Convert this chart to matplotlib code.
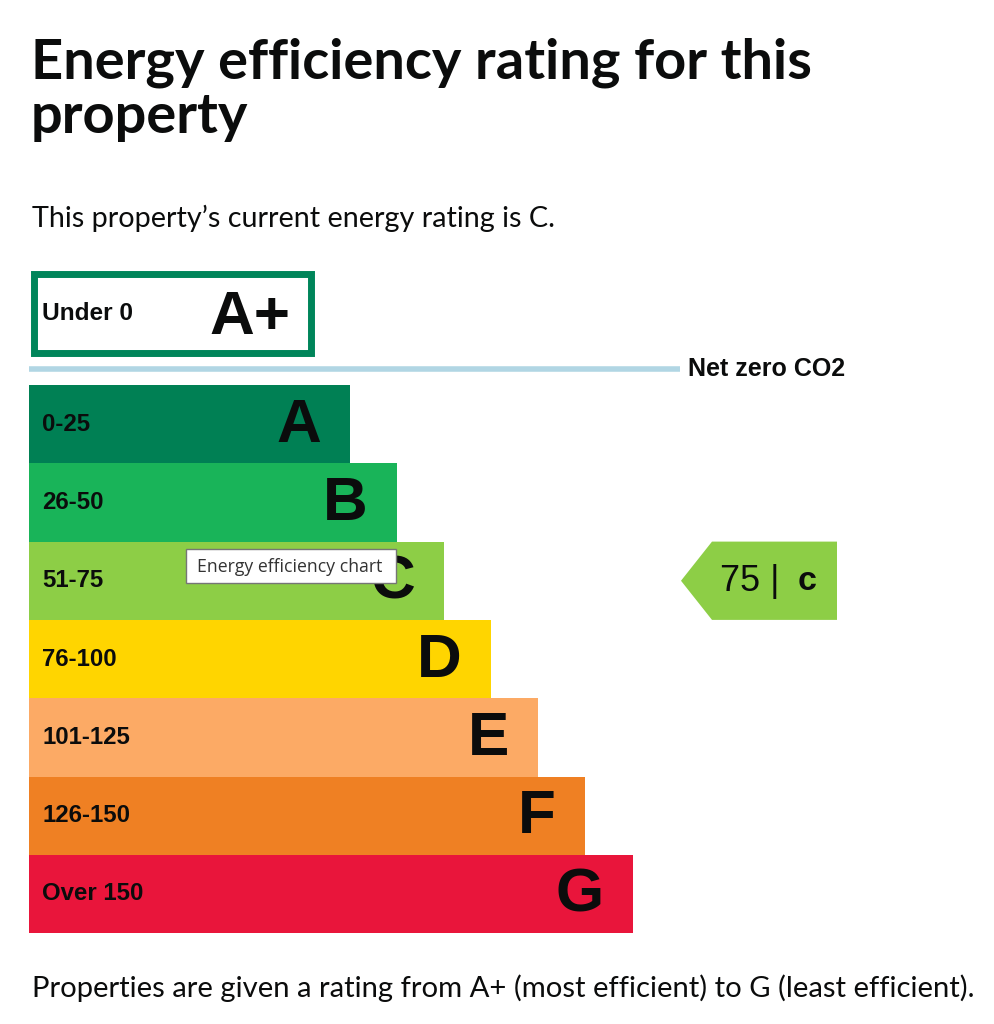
import matplotlib.pyplot as plt
from matplotlib.patches import Rectangle, Polygon

W, H = 994, 1024
DPI = 100

# chart data
bands = ["A", "B", "C", "D", "E", "F", "G"]
ranges = ["0-25", "26-50", "51-75", "76-100", "101-125", "126-150", "Over 150"]
band_colors = ["#008054", "#19b459", "#8dce46", "#ffd500", "#fcaa65", "#ef8023", "#e9153b"]
bar_lengths = [321, 368, 415, 462, 509, 556, 604]
current_score = 75
current_band = "C"

INTRO = "This property\u2019s current energy rating is C."
FOOTER = "Properties are given a rating from A+ (most efficient) to G (least efficient)."

BODY_FONT = "Lato"
CHART_FONT = "Liberation Sans"
INK = "#0b0c0c"


def px(size):
    # pixel size -> points
    return size * 72 / DPI


fig = plt.figure(figsize=(W / DPI, H / DPI), dpi=DPI)
ax = fig.add_axes([0, 0, 1, 1])
ax.set_xlim(0, W)
ax.set_ylim(H, 0)
ax.axis("off")

# headings
ax.text(31, 78, "Energy efficiency rating for this", fontsize=px(56), fontweight="bold",
        family=BODY_FONT, color=INK, va="baseline")
ax.text(31, 133, "property", fontsize=px(56), fontweight="bold",
        family=BODY_FONT, color=INK, va="baseline")
ax.text(32, 227, INTRO, fontsize=px(28.8), family=BODY_FONT, color=INK, va="baseline")

# bands
x0 = 29
top = 385
band_h = 78.3
ys = [top + (i + 0.5) * band_h for i in range(len(bands))]
ax.barh(ys, bar_lengths, height=band_h, left=x0, color=band_colors, edgecolor="none")
for y, length, band, rng in zip(ys, bar_lengths, bands, ranges):
    ax.text(42, y, rng, fontsize=px(24), fontweight="bold", family=CHART_FONT,
            color=INK, va="center")
    ax.text(x0 + length - 29, y + 2, band, fontsize=px(62), fontweight="bold",
            family=CHART_FONT, color=INK, va="center", ha="right")

# A+ box
ax.add_patch(Rectangle((34, 274), 277, 79, facecolor="white", edgecolor="#00855a", linewidth=5))
ax.text(42, 313, "Under 0", fontsize=px(24.5), fontweight="bold", family=CHART_FONT,
        color=INK, va="center")
ax.text(290, 318, "A+", fontsize=px(62), fontweight="bold", family=CHART_FONT,
        color=INK, va="center", ha="right")

# net zero line
ax.plot([29, 680], [369, 369], color="#b1d6e4", linewidth=4, solid_capstyle="butt")
ax.text(688, 369, "Net zero CO2", fontsize=px(25), fontweight="bold", family=CHART_FONT,
        color=INK, va="center")

# current rating arrow
ci = bands.index(current_band)
cy = ys[ci]
half = band_h / 2
arrow = Polygon([(681, cy), (712, cy - half), (837, cy - half), (837, cy + half), (712, cy + half)],
                closed=True, facecolor=band_colors[ci], edgecolor="none")
ax.add_patch(arrow)
ax.text(720, cy + 1, f"{current_score} |", fontsize=px(36), family=CHART_FONT,
        color=INK, va="center")
ax.text(798, cy + 1, current_band.lower(), fontsize=px(34), fontweight="bold",
        family=CHART_FONT, color=INK, va="center")

# browser tooltip
ax.add_patch(Rectangle((186, 549), 210, 34, facecolor="white", edgecolor="#767676", linewidth=1, zorder=5))
ax.text(197, 567, "Energy efficiency chart", fontsize=px(17.6), family="Open Sans",
        color="#333333", va="center", zorder=6)

ax.text(32, 997, FOOTER, fontsize=px(29.2), family=BODY_FONT, color=INK, va="baseline")

fig.savefig("out.png", dpi=DPI, facecolor="white")
